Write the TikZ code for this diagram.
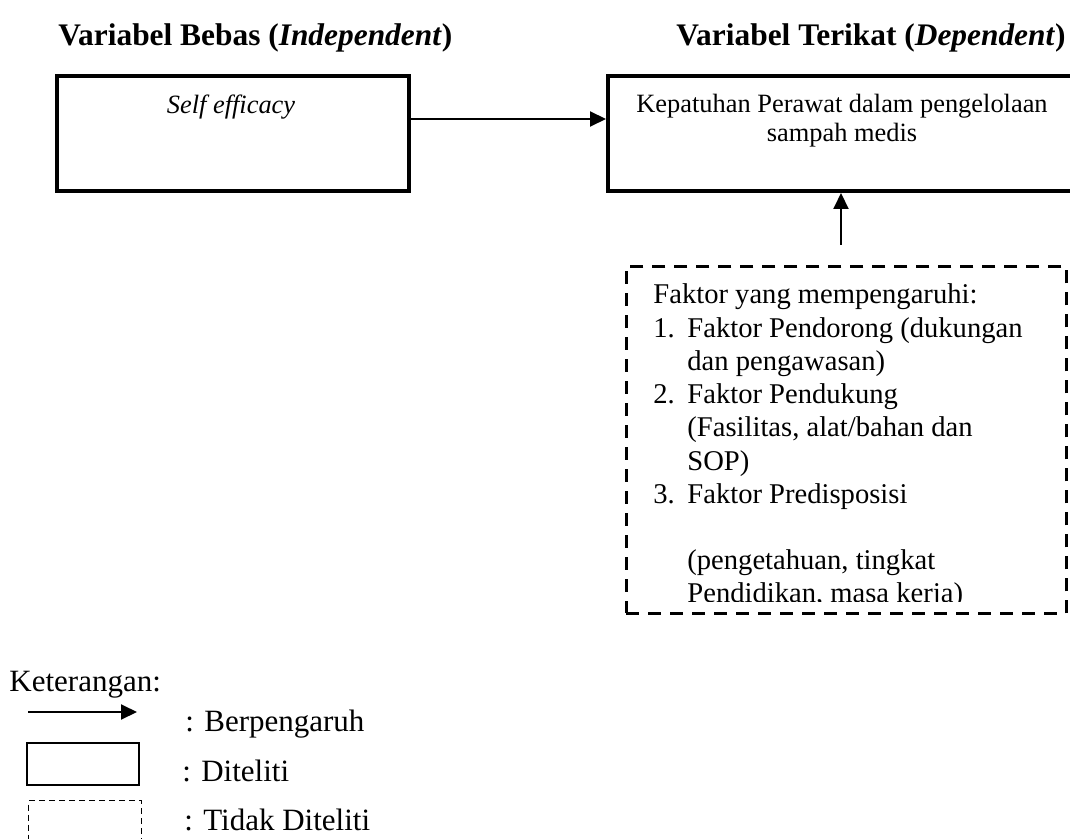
\documentclass[tikz,border=0pt]{standalone}
\usepackage{fontspec}
\setmainfont{Liberation Serif}
\usetikzlibrary{arrows.meta}
\begin{document}
\begin{tikzpicture}[x=0.5pt,y=-0.5pt,
  boxtxt/.style={inner sep=0pt, font=\fontsize{13.2}{15}\selectfont},
  txt/.style={inner sep=0pt, font=\fontsize{14.3}{16}\selectfont},
  legtxt/.style={inner sep=0pt, font=\fontsize{15.5}{17}\selectfont},
  head/.style={inner sep=0pt, font=\fontsize{15.7}{18}\selectfont\bfseries},
  mainbox/.style={draw, line width=2pt, inner sep=0pt, anchor=north west},
  dbox/.style={draw, line width=1.4pt, dash pattern=on 6.5pt off 4.5pt, inner sep=0pt, anchor=north west},
  lbox/.style={draw, line width=0.8pt, inner sep=0pt, anchor=north west},
  ldbox/.style={draw, line width=0.5pt, dash pattern=on 3pt off 2pt, inner sep=0pt, anchor=north west},
  arr/.style={line width=1pt, -{Triangle[length=8pt,width=7.5pt]}}]
\useasboundingbox (0,0) rectangle (1070,839);
\clip (0,0) rectangle (1070,839);
% headings
\node[head, anchor=base west] (h1) at (58,46) {Variabel Bebas (\textit{Independent})};
\node[head, anchor=base east] (h2) at (1066,46) {Variabel Terikat (\textit{Dependent})};
% boxes
\node[mainbox, minimum width=176pt, minimum height=57.5pt] (ind) at (55,74) {};
\node[mainbox, minimum width=237pt, minimum height=57.5pt] (dep) at (606,74) {};
\node[dbox, minimum width=220pt, minimum height=173.5pt] (fak) at (625,265) {};
\node[boxtxt, anchor=base] (t1) at (231,114) {\textit{Self efficacy}};
\node[boxtxt, anchor=base] (t2) at (842,113) {Kepatuhan Perawat dalam pengelolaan};
\node[boxtxt, anchor=base] (t3) at (842,142) {sampah medis};
% arrows
\coordinate (ay) at (0,119);
\draw[arr] (ind.east |- ay) -- (dep.west |- ay);
\coordinate (up) at (841,245);
\draw[arr] (up) -- (dep.south -| up);
% factor text
\begin{scope}
\clip (600,260) rectangle (1070,601);
\node[txt, anchor=base west] (f0) at (653,304) {Faktor yang mempengaruhi:};
\node[txt, anchor=base west] (n1) at (653,337.2) {1.};
\node[txt, anchor=base west] (f1) at (687,337.2) {Faktor Pendorong (dukungan};
\node[txt, anchor=base west] (f2) at (687,370.4) {dan pengawasan)};
\node[txt, anchor=base west] (n2) at (653,403.6) {2.};
\node[txt, anchor=base west] (f3) at (687,403.6) {Faktor Pendukung};
\node[txt, anchor=base west] (f4) at (687,436.8) {(Fasilitas, alat/bahan dan};
\node[txt, anchor=base west] (f5) at (687,470) {SOP)};
\node[txt, anchor=base west] (n3) at (653,503.2) {3.};
\node[txt, anchor=base west] (f6) at (687,503.2) {Faktor Predisposisi};
\node[txt, anchor=base west] (f7) at (687,569.6) {(pengetahuan, tingkat};
\node[txt, anchor=base west] (f8) at (687,602.8) {Pendidikan, masa kerja)};
\end{scope}
% legend
\node[legtxt, anchor=base west] (ket) at (9,691) {Keterangan:};
\coordinate (la1) at (28,712);
\coordinate (la2) at (137,712);
\draw[arr] (la1) -- (la2);
\node[legtxt, anchor=base west] (l1) at (185,731) {: Berpengaruh};
\node[lbox, minimum width=56pt, minimum height=21pt] (lb1) at (26,742) {};
\node[legtxt, anchor=base west] (l2) at (182,781) {: Diteliti};
\node[ldbox, minimum width=56.5pt, minimum height=30pt] (lb2) at (28,800) {};
\node[legtxt, anchor=base west] (l3) at (184,830) {: Tidak Diteliti};
\end{tikzpicture}
\end{document}
